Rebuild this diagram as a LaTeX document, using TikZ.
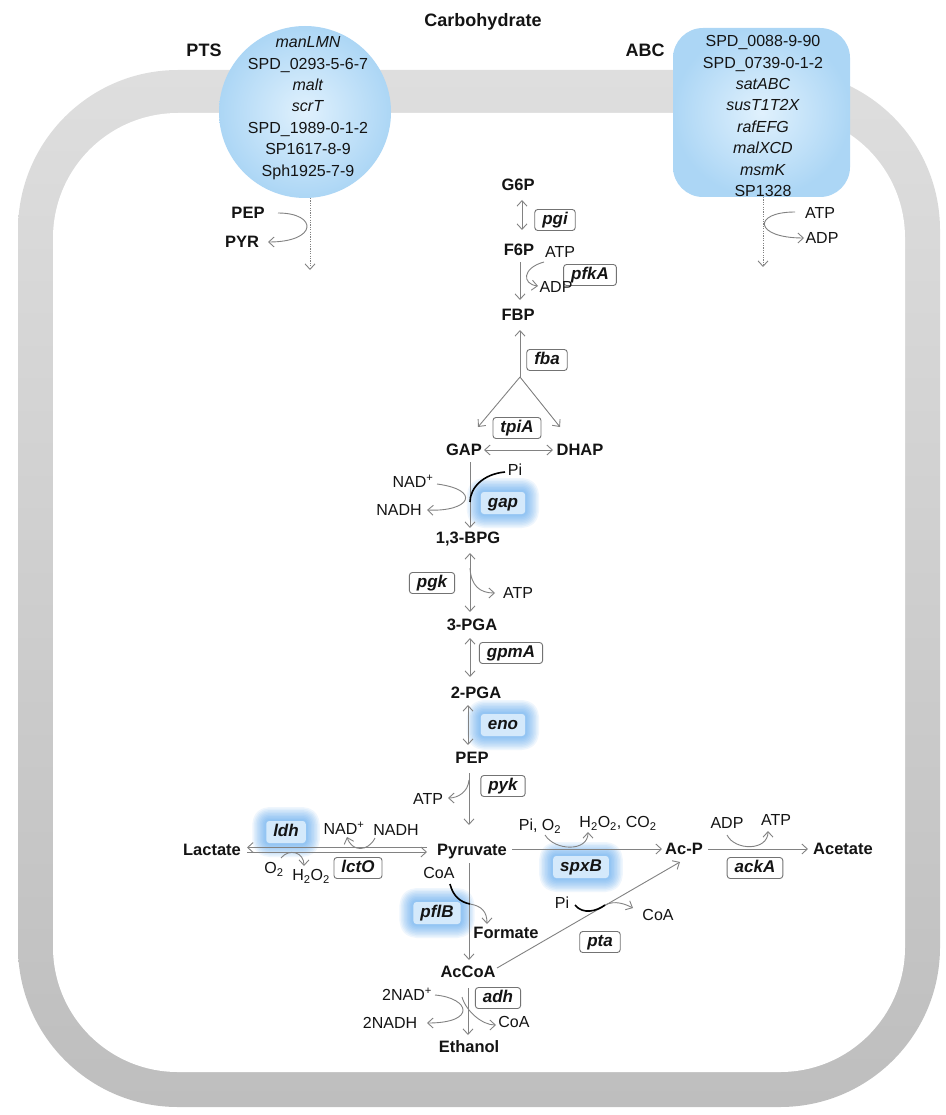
\documentclass[tikz,border=0pt]{standalone}
\usepackage{fontspec}
\setmainfont{Liberation Sans}
\usetikzlibrary{arrows.meta}
\definecolor{txt}{RGB}{20,20,20}
\definecolor{ln}{RGB}{130,130,130}
\definecolor{bx}{RGB}{115,115,115}
\definecolor{memtop}{RGB}{222,222,222}
\definecolor{membot}{RGB}{190,190,190}
\definecolor{tin}{RGB}{224,241,253}
\definecolor{tout}{RGB}{172,214,245}
\definecolor{glowc}{RGB}{70,155,238}
\definecolor{glowin}{RGB}{212,233,251}
\newcommand\metf{\bfseries\fontsize{16.5}{19}\selectfont}
\newcommand\coff{\fontsize{16}{19}\selectfont}
\newcommand\genf{\bfseries\itshape\fontsize{17}{20}\selectfont}
\newcommand\memf{\fontsize{16}{21.4}\selectfont}
\newcommand\ttlf{\bfseries\fontsize{18}{21}\selectfont}
\begin{document}
\begin{tikzpicture}[x=1pt,y=-1pt,
  >={Straight Barb[length=5.5pt,width=10pt]},
  met/.style={font=\metf, text=txt, inner sep=0pt, text height=11.8pt, text depth=0pt},
  cof/.style={font=\coff, text=txt, inner sep=0pt, text height=11.5pt, text depth=0pt},
  ttl/.style={font=\ttlf, text=txt, inner sep=0pt, text height=12.9pt, text depth=0pt},
  memt/.style={font=\memf, text=txt, align=center, inner sep=0pt},
  gene/.style={font=\genf, text=txt, draw=bx, line width=0.9pt, rounded corners=3pt, fill=white,
     inner xsep=7.5pt, inner ysep=2.5pt, text height=12.2pt, text depth=3.8pt},
  gl/.style={preaction={draw=glowc, draw opacity=0.085, line width=#1, line join=round}},
  glow/.style={font=\genf, text=txt, fill=glowin, rounded corners=3pt,
     inner xsep=7pt, inner ysep=3pt, text height=12.2pt, text depth=3.8pt,
     gl=28pt, gl=25pt, gl=22pt, gl=19pt, gl=16pt, gl=13pt, gl=10pt, gl=7pt, gl=4pt},
  rx/.style={draw=ln, line width=0.9pt},
  dk/.style={draw=black, line width=1.6pt},
  dotl/.style={draw=ln, line width=0.9pt, dash pattern=on 1.2pt off 1.2pt}
]
\useasboundingbox (0,0) rectangle (945,1115);

% membrane
\shade[top color=memtop, bottom color=membot, rounded corners=160pt] (18,70) rectangle (940,1107);
\fill[white, rounded corners=125pt] (53,113) rectangle (905,1072);

% transporters
\node[circle, minimum size=172pt, inner sep=0pt, shade, shading=radial, inner color=tin, outer color=tout] (ptsc) at (305,112) {};
\node[rectangle, rounded corners=30pt, minimum width=177pt, minimum height=169pt, inner sep=0pt,
      shade, shading=radial, inner color=tin, outer color=tout] (abcb) at (761.5,112.5) {};
\node[memt] (ptst) at (308,108) {\textit{manLMN}\\SPD\_0293-5-6-7\\\textit{malt}\\\textit{scrT}\\SPD\_1989-0-1-2\\SP1617-8-9\\Sph1925-7-9};
\node[memt] (abct) at (763,116) {SPD\_0088-9-90\\SPD\_0739-0-1-2\\\textit{satABC}\\\textit{susT1T2X}\\\textit{rafEFG}\\\textit{malXCD}\\\textit{msmK}\\SP1328};

\node[ttl] (carb) at (483,20) {Carbohydrate};
\node[ttl] (pts) at (204,50) {PTS};
\node[ttl] (abc) at (645,50) {ABC};

\node[met] (pep0) at (248,213) {PEP};
\node[met] (pyr0) at (242,242) {PYR};
\node[cof] (atp0) at (820,213) {ATP};
\node[cof] (adp0) at (822,238) {ADP};

% glow enzymes
\node[glow] (gapg) at (503,503) {gap};
\node[glow] (eno) at (503,725) {eno};
\node[glow] (ldh) at (286,832) {ldh};
\node[glow] (pflb) at (437,913) {pflB};
\node[glow] (spxb) at (581,867) {spxB};

% boxed enzymes
\node[gene] (pgi) at (555,220) {pgi};
\node[gene] (pfka) at (590,275) {pfkA};
\node[gene] (fba) at (547,360) {fba};
\node[gene] (tpia) at (517,428) {tpiA};
\node[gene] (pgk) at (432,583) {pgk};
\node[gene] (gpma) at (511,653) {gpmA};
\node[gene] (pyk) at (503,786) {pyk};
\node[gene] (lcto) at (358,868) {lctO};
\node[gene] (acka) at (755,868) {ackA};
\node[gene] (pta) at (600,942) {pta};
\node[gene] (adh) at (498,998) {adh};

% metabolites
\node[met] (g6p) at (518,185) {G6P};
\node[met] (f6p) at (519,250) {F6P};
\node[met] (fbp) at (518,315) {FBP};
\node[met] (gap) at (464,450) {GAP};
\node[met] (dhap) at (580,450) {DHAP};
\node[met] (bpg) at (468,538) {1,3-BPG};
\node[met] (pga3) at (472,625) {3-PGA};
\node[met] (pga2) at (476,693) {2-PGA};
\node[met] (pep) at (472,758) {PEP};
\node[met] (pyr) at (472,850) {Pyruvate};
\node[met] (lac) at (212,850) {Lactate};
\node[met] (form) at (506,933) {Formate};
\node[met] (accoa) at (468,972) {AcCoA};
\node[met] (acp) at (684,849) {Ac-P};
\node[met] (acet) at (843,849) {Acetate};
\node[met] (etoh) at (469,1047) {Ethanol};

% cofactors
\node[cof] (atp1) at (560,252) {ATP};
\node[cof] (adp1) at (556,287) {ADP};
\node[cof] (pi1) at (515,470) {Pi};
\node[cof] (nad1) at (413,482) {NAD\textsuperscript{+}};
\node[cof] (nadh1) at (399,510) {NADH};
\node[cof] (atp2) at (518,593) {ATP};
\node[cof] (atp3) at (428,799) {ATP};
\node[cof] (nad2) at (344,829) {NAD\textsuperscript{+}};
\node[cof] (nadh2) at (396,830) {NADH};
\node[cof] (o2) at (274,868) {O\textsubscript{2}};
\node[cof] (h2o2) at (311,875) {H\textsubscript{2}O\textsubscript{2}};
\node[cof] (coa1) at (439,873) {CoA};
\node[cof] (pio2) at (540,825) {Pi, O\textsubscript{2}};
\node[cof] (h2o2co2) at (618,822) {H\textsubscript{2}O\textsubscript{2}, CO\textsubscript{2}};
\node[cof] (adp3) at (727,823) {ADP};
\node[cof] (atp4) at (776,820) {ATP};
\node[cof] (pi3) at (562,903) {Pi};
\node[cof] (coa2) at (658,915) {CoA};
\node[cof] (nad3) at (407,995) {2NAD\textsuperscript{+}};
\node[cof] (nadh3) at (390,1023) {2NADH};
\node[cof] (coa3) at (514,1022) {CoA};

% transport connectors
\draw[dotl,->] ([shift={(5,86)}]ptsc.center) -- ([shift={(5,158)}]ptsc.center);
\draw[rx,->] ([shift={(30,0)}]pep0.center) .. controls +(40,0) and +(50,0) .. ([shift={(26,0)}]pyr0.center);
\draw[dotl,->] ([shift={(1.5,84.5)}]abcb.center) -- ([shift={(1.5,154.5)}]abcb.center);
\draw[rx,->] ([shift={(-25,-1)}]atp0.center) .. controls +(-43,0) and +(-50,0) .. ([shift={(-18,0)}]adp0.center);

% upper glycolysis
\draw[rx,<->] ([shift={(4,15)}]g6p.center) -- ([shift={(3,-20)}]f6p.center);
\draw[rx,->] ([shift={(1,12)}]f6p.center) -- ([shift={(2,-15)}]fbp.center);
\draw[rx,->] ([shift={(-16,10)}]atp1.center) .. controls +(-22,6) and +(-16,-2) .. ([shift={(-18,-1)}]adp1.center);
\coordinate (br) at (520,377);
\draw[rx,->] (br) -- ([shift={(2,15)}]fbp.center);
\draw[rx,->] (br) -- ([shift={(14,-23)}]gap.center);
\draw[rx,->] (br) -- ([shift={(-20,-23)}]dhap.center);
\draw[rx,<->] ([shift={(20,0)}]gap.center) -- ([shift={(-27,0)}]dhap.center);

% gap
\draw[rx,->] ([shift={(6,12)}]gap.center) -- ([shift={(2,-10)}]bpg.center);
\draw[rx,->] ([shift={(24,2)}]nad1.center) .. controls +(45,6) and +(43,2) .. ([shift={(28,0)}]nadh1.center);
\draw[dk] ([shift={(-10,2)}]pi1.center) .. controls +(-22,2) and +(0,-14) .. ([shift={(6,52)}]gap.center);

% pgk, gpmA, eno, pyk
\draw[rx,<->] ([shift={(2,15)}]bpg.center) -- ([shift={(-2,-13)}]pga3.center);
\draw[rx,->] ([shift={(2,30)}]bpg.center) .. controls +(1,18) and +(-15,0) .. ([shift={(-23,0)}]atp2.center);
\draw[rx,<->] ([shift={(-2,13)}]pga3.center) -- ([shift={(-6,-16)}]pga2.center);
\draw[rx,<->] ([shift={(-8,12)}]pga2.center) -- ([shift={(-4,-13)}]pep.center);
\draw[rx,->] ([shift={(-3,15)}]pep.center) -- ([shift={(-3,-25)}]pyr.center);
\draw[rx,->] ([shift={(-3,22)}]pep.center) .. controls +(-1,12) and +(10,0) .. ([shift={(20,-1)}]atp3.center);

% lactate
\draw[rx,->] ([shift={(-45,-2.5)}]pyr.center) -- ([shift={(35,-2.5)}]lac.center);
\draw[rx,->] ([shift={(35,2)}]lac.center) -- ([shift={(-45,2)}]pyr.center);
\draw[rx,->] ([shift={(-21,8)}]nadh2.center) .. controls +(-7,14) and +(5,15) .. ([shift={(3,8)}]nad2.center);
\draw[rx,->] ([shift={(7,-10)}]o2.center) .. controls +(8,-10) and +(0,-14) .. ([shift={(-7,-9)}]h2o2.center);

% pflB
\draw[rx,->] ([shift={(-3,13)}]pyr.center) -- ([shift={(1,-12)}]accoa.center);
\draw[dk] ([shift={(11,11)}]coa1.center) .. controls +(3,12) and +(-10,-2) .. ([shift={(-2,54)}]pyr.center);
\draw[rx,->] ([shift={(-2,54)}]pyr.center) .. controls +(12,2) and +(0,-12) .. ([shift={(-19,-9)}]form.center);

% spxB, ackA
\draw[rx,->] ([shift={(40,-1)}]pyr.center) -- ([shift={(-22,0)}]acp.center);
\draw[rx,->] ([shift={(5,10)}]pio2.center) .. controls +(10,16) and +(0,20) .. ([shift={(-30,10)}]h2o2co2.center);
\draw[rx,->] ([shift={(24,0)}]acp.center) -- ([shift={(-35,0)}]acet.center);
\draw[rx,->] ([shift={(0,12)}]adp3.center) .. controls +(8,16) and +(0,20) .. ([shift={(-8,11)}]atp4.center);

% pta
\draw[rx,->] ([shift={(29,-4)}]accoa.center) -- ([shift={(-4,13)}]acp.center);
\draw[dk] ([shift={(13,2)}]pi3.center) .. controls +(8,10) and +(-8,6) .. ([shift={(43,2)}]pi3.center);
\draw[rx,->] ([shift={(43,2)}]pi3.center) .. controls +(10,-5) and +(-8,-4) .. ([shift={(-25,-7)}]coa2.center);

% adh
\draw[rx,->] ([shift={(0,16)}]accoa.center) -- ([shift={(-1,-12)}]etoh.center);
\draw[rx,->] ([shift={(28,0)}]nad3.center) .. controls +(35,3) and +(50,0) .. ([shift={(37,0)}]nadh3.center);
\draw[rx,->] ([shift={(-6,25)}]accoa.center) .. controls +(4,14) and +(-14,0) .. ([shift={(-18,3)}]coa3.center);
\end{tikzpicture}
\end{document}
